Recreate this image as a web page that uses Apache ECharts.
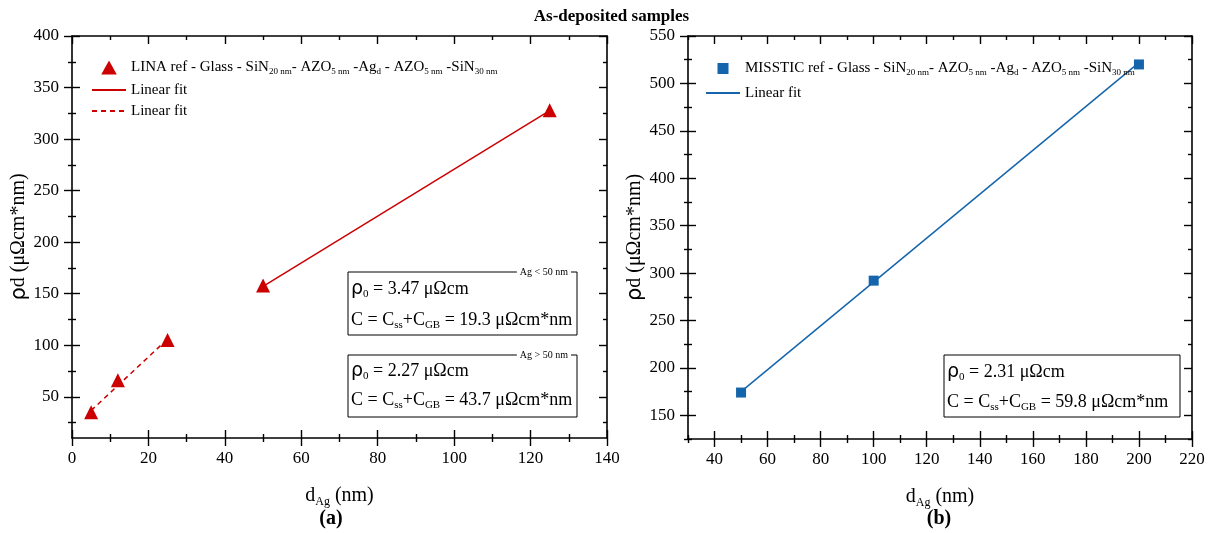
<!DOCTYPE html>
<html><head><meta charset="utf-8">
<script src="https://cdn.jsdelivr.net/npm/echarts@6/dist/echarts.min.js"></script>
<style>html,body{margin:0;padding:0;background:#fff}#c{width:1223px;height:533px}</style>
</head><body><div id="c"></div>
<script>
// ---- data ----
const leftX = [5, 12, 25, 50, 125];
const leftY = [35, 66, 105, 158, 328];
const leftFitLowX = [5, 25];
const leftFitLowY = [36.6, 106];
const leftFitHighX = [50, 125];
const leftFitHighY = [157.2, 327.5];
const rightX = [50, 100, 200];
const rightY = [174, 292, 520];
const rightFitX = [50, 200];
const rightFitY = [175, 522];

const leftXMajor = [0, 20, 40, 60, 80, 100, 120, 140];
const leftXMinor = [10, 30, 50, 70, 90, 110, 130];
const leftYMajor = [50, 100, 150, 200, 250, 300, 350, 400];
const leftYMinor = [25, 75, 125, 175, 225, 275, 325, 375];
const rightXMajor = [40, 60, 80, 100, 120, 140, 160, 180, 200, 220];
const rightXMinor = [30, 50, 70, 90, 110, 130, 150, 170, 190, 210];
const rightYMajor = [150, 200, 250, 300, 350, 400, 450, 500, 550];
const rightYMinor = [125, 175, 225, 275, 325, 375, 425, 475, 525];

const FONT = 'Liberation Serif';
const RED = '#cc0000';
const BLUE = '#1565ad';
const CLEAR = 'rgba(0,0,0,0)';

function zip(a, b) { return a.map((v, i) => [v, b[i]]); }

function mkAxes(isX, grid, min, max, major, minor, name, nameGap) {
  const posMain = isX ? 'bottom' : 'left';
  const posOpp = isX ? 'top' : 'right';
  const base = (pos) => ({
    type: 'value', gridIndex: grid, min: min, max: max, position: pos,
    splitLine: { show: false },
    axisLine: { show: false, onZero: false, lineStyle: { color: '#000', width: 1.6 } },
    axisLabel: { show: false },
    axisTick: { show: true, lineStyle: { color: '#000', width: 1.4 } }
  });
  const out = [];
  const main = base(posMain);
  main.axisLine.show = true;
  main.axisLabel = { show: true, customValues: major, color: '#000', fontFamily: FONT, fontSize: 17, margin: isX ? 12 : 13 };
  main.axisTick.customValues = major; main.axisTick.length = 8; main.axisTick.inside = false;
  main.name = name; main.nameLocation = 'middle'; main.nameGap = nameGap;
  main.nameTextStyle = { color: '#000', fontFamily: FONT, fontSize: 20,
    rich: { sub: { fontSize: 12, fontFamily: FONT, padding: [12, 0, 0, 0], color: '#000' },
            sym: { fontSize: 21, fontFamily: 'DejaVu Sans', color: '#000' } } };
  out.push(main);
  const a2 = base(posMain); a2.axisTick.customValues = major; a2.axisTick.length = 8; a2.axisTick.inside = true; out.push(a2);
  const a3 = base(posMain); a3.axisTick.customValues = minor; a3.axisTick.length = 4; a3.axisTick.inside = false; out.push(a3);
  const a4 = base(posMain); a4.axisTick.customValues = minor; a4.axisTick.length = 4; a4.axisTick.inside = true; out.push(a4);
  const a5 = base(posOpp); a5.axisLine.show = true; a5.axisTick.customValues = major; a5.axisTick.length = 8; a5.axisTick.inside = true; out.push(a5);
  const a6 = base(posOpp); a6.axisTick.customValues = minor; a6.axisTick.length = 4; a6.axisTick.inside = true; out.push(a6);
  return out;
}

const xName = 'd{sub|Ag} (nm)';
const yName = '{sym|ρ}d (μΩcm*nm)';

const xAxes = [].concat(
  mkAxes(true, 0, 0, 140, leftXMajor, leftXMinor, xName, 46),
  mkAxes(true, 1, 30, 220, rightXMajor, rightXMinor, xName, 46)
);
const yAxes = [].concat(
  mkAxes(false, 0, 10, 400, leftYMajor, leftYMinor, yName, 42),
  mkAxes(false, 1, 125, 550, rightYMajor, rightYMinor, yName, 42)
);

const legendNames = {
  'LINA': 'LINA ref - Glass - SiN{s|20 nm}- AZO{s|5 nm} -Ag{s|d} - AZO{s|5 nm} -SiN{s|30 nm}',
  'fitHigh': 'Linear fit',
  'fitLow': 'Linear fit',
  'MISSTIC': 'MISSTIC ref - Glass - SiN{s|20 nm}- AZO{s|5 nm} -Ag{s|d} - AZO{s|5 nm} -SiN{s|30 nm}',
  'fitB': 'Linear fit'
};
const legendText = { color: '#000', fontFamily: FONT, fontSize: 15,
  rich: { s: { fontSize: 9, fontFamily: FONT, color: '#000', padding: [9, 0, 0, 0] } } };

const subRich = { fontSize: 11, fontFamily: FONT, color: '#000', padding: [10, 0, 0, 0] };
const symRich = { fontSize: 19, fontFamily: 'DejaVu Sans', color: '#000' };
function boxText(x, y, txt) {
  return { type: 'text', x: x, y: y, z: 20,
    style: { text: txt, fill: '#000', font: '18px ' + FONT, verticalAlign: 'middle', align: 'left',
      rich: { s: subRich, r: symRich } } };
}
function boxRect(x, y, w, h) {
  return { type: 'rect', x: x, y: y, z: 19, shape: { width: w, height: h },
    style: { fill: '#fff', stroke: '#000', lineWidth: 1 } };
}
function boxTag(x, y, txt) {
  return { type: 'text', x: x, y: y, z: 21,
    style: { text: txt, fill: '#000', font: '10px ' + FONT, align: 'right', verticalAlign: 'middle',
      backgroundColor: '#fff', padding: [0, 3, 0, 3] } };
}

const option = {
  animation: false,
  backgroundColor: '#fff',
  title: [
    { text: 'As-deposited samples', left: 'center', top: 3,
      textStyle: { fontFamily: FONT, fontSize: 17, fontWeight: 'bold', color: '#000' } },
    { text: '(a)', left: 326, top: 504, textAlign: 'center',
      textStyle: { fontFamily: FONT, fontSize: 20, fontWeight: 'bold', color: '#000' } },
    { text: '(b)', left: 934, top: 504, textAlign: 'center',
      textStyle: { fontFamily: FONT, fontSize: 20, fontWeight: 'bold', color: '#000' } }
  ],
  grid: [
    { left: 72, top: 36, width: 535, height: 402 },
    { left: 688, top: 36, width: 504, height: 403 }
  ],
  xAxis: xAxes,
  yAxis: yAxes,
  legend: [
    { orient: 'vertical', left: 91, top: 60, padding: 0, itemWidth: 34, itemHeight: 14, itemGap: 6,
      data: [
        { name: 'LINA', icon: 'path://M5,0L10,9L0,9Z' },
        { name: 'fitHigh', itemStyle: { color: CLEAR, opacity: 0 } },
        { name: 'fitLow', itemStyle: { color: CLEAR, opacity: 0 } }
      ],
      formatter: n => legendNames[n], textStyle: legendText, selectedMode: false },
    { orient: 'vertical', left: 705, top: 61, padding: 0, itemWidth: 34, itemHeight: 11, itemGap: 8,
      data: [
        { name: 'MISSTIC', icon: 'path://M0,0H10V10H0Z' },
        { name: 'fitB', itemStyle: { color: CLEAR, opacity: 0 } }
      ],
      formatter: n => legendNames[n], textStyle: legendText, selectedMode: false }
  ],
  series: [
    { name: 'fitHigh', type: 'line', xAxisIndex: 0, yAxisIndex: 0, data: zip(leftFitHighX, leftFitHighY),
      symbol: 'none', lineStyle: { color: RED, width: 1.5 }, itemStyle: { color: CLEAR } },
    { name: 'fitLow', type: 'line', xAxisIndex: 0, yAxisIndex: 0, data: zip(leftFitLowX, leftFitLowY),
      symbol: 'none', lineStyle: { color: RED, width: 1.5, type: [5, 4] }, itemStyle: { color: CLEAR } },
    { name: 'LINA', type: 'scatter', xAxisIndex: 0, yAxisIndex: 0, data: zip(leftX, leftY),
      symbol: 'triangle', symbolSize: 14, itemStyle: { color: RED, opacity: 1 }, z: 5 },
    { name: 'fitB', type: 'line', xAxisIndex: 6, yAxisIndex: 6, data: zip(rightFitX, rightFitY),
      symbol: 'none', lineStyle: { color: BLUE, width: 1.5 }, itemStyle: { color: CLEAR } },
    { name: 'MISSTIC', type: 'scatter', xAxisIndex: 6, yAxisIndex: 6, data: zip(rightX, rightY),
      symbol: 'rect', symbolSize: 10, itemStyle: { color: BLUE, opacity: 1 }, z: 5 }
  ],
  graphic: [
    boxRect(348, 272, 229, 63),
    boxTag(571, 272, 'Ag < 50 nm'),
    boxText(351, 289, '{r|ρ}{s|0} = 3.47 μΩcm'),
    boxText(351, 320, 'C = C{s|ss}+C{s|GB} = 19.3 μΩcm*nm'),
    boxRect(348, 355, 229, 62),
    boxTag(571, 355, 'Ag > 50 nm'),
    boxText(351, 371, '{r|ρ}{s|0} = 2.27 μΩcm'),
    boxText(351, 400, 'C = C{s|ss}+C{s|GB} = 43.7 μΩcm*nm'),
    boxRect(944, 355, 236, 62),
    boxText(947, 372, '{r|ρ}{s|0} = 2.31 μΩcm'),
    boxText(947, 402, 'C = C{s|ss}+C{s|GB} = 59.8 μΩcm*nm')
  ]
};
const chart = echarts.init(document.getElementById('c'), null, { renderer: 'canvas' });
chart.setOption(option);
</script></body></html>
